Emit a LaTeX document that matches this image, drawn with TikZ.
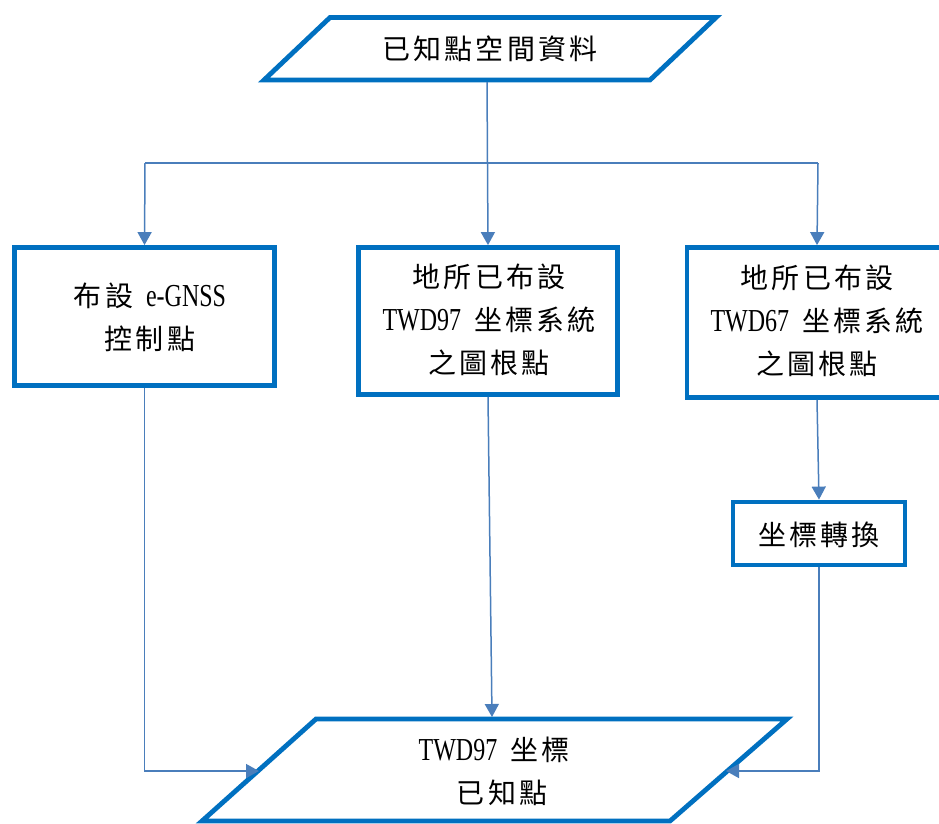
\documentclass[tikz,border=0pt]{standalone}
\usepackage{fontspec}
\setmainfont[FakeStretch=0.75]{Liberation Serif}
\newfontfamily\cjk[LetterSpace=11,Scale=0.875]{Noto Sans CJK TC}
\usetikzlibrary{arrows.meta}
\definecolor{bord}{HTML}{0070C0}
\definecolor{linec}{HTML}{4A7EBB}
\newcommand{\gap}{\hspace{13pt}}
\tikzset{
  box/.style={draw=bord, line width=4.8pt, fill=white},
  rbox/.style={box, rectangle, inner sep=0pt},
  lbl/.style={align=center, font=\fontsize{32}{43}\selectfont, inner sep=0pt},
  plain/.style={draw=linec, line width=1.5pt},
  arr/.style={plain, -{Triangle[width=14pt,length=13pt]}}
}
\begin{document}
\begin{tikzpicture}[x=1pt,y=-1pt]
\useasboundingbox (0,0) rectangle (939,823);
% top input parallelogram
\draw[box] (330,17.5) -- (716,17.5) -- (650,80) -- (264,80) -- cycle;
\node[lbl] (src) at (490,49) {{\cjk 已知點空間資料}};
\coordinate (srcb) at (487,82);
% boxes
\node[rbox, minimum width=260pt, minimum height=138pt] (b1) at (144.5,316.5) {};
\node[lbl] (t1) at (150,317.5) {{\cjk 布設}\gap e-GNSS\\{\cjk 控制點}};
\node[rbox, minimum width=259pt, minimum height=147pt] (b2) at (488,321) {};
\node[lbl] (t2) at (489,320) {{\cjk 地所已布設}\\TWD97\gap{\cjk 坐標系統}\\{\cjk 之圖根點}};
\node[rbox, minimum width=260pt, minimum height=150pt] (b3) at (817,322.5) {};
\node[lbl] (t3) at (817,321) {{\cjk 地所已布設}\\TWD67\gap{\cjk 坐標系統}\\{\cjk 之圖根點}};
\node[rbox, minimum width=172pt, minimum height=63pt] (b4) at (819,533.5) {};
\node[lbl] (t4) at (819,535) {{\cjk 坐標轉換}};
% bottom output parallelogram
\draw[box] (316,719) -- (787,719) -- (670,821) -- (202,821) -- cycle;
\node[lbl] (dst) at (494,771) {TWD97\gap{\cjk 坐標}\\\hspace*{16pt}{\cjk 已知點}};
\coordinate (inL) at (259,771);
\coordinate (inR) at (726,771);
\coordinate (inT) at (492,717);
% connectors
\coordinate (jl) at (145,163);
\coordinate (jr) at (818,163);
\draw[plain] (jl) -- (jr);
\draw[arr] (srcb) -- (b2.north);
\draw[arr] (jl) -- (b1.north);
\draw[arr] (jr) -- (b3.north);
\draw[arr] (b1.south) |- (inL);
\draw[arr] (b2.south) -- (inT);
\draw[arr] (b3.south) -- (b4.north);
\draw[arr] (b4.south) |- (inR);
\end{tikzpicture}
\end{document}
